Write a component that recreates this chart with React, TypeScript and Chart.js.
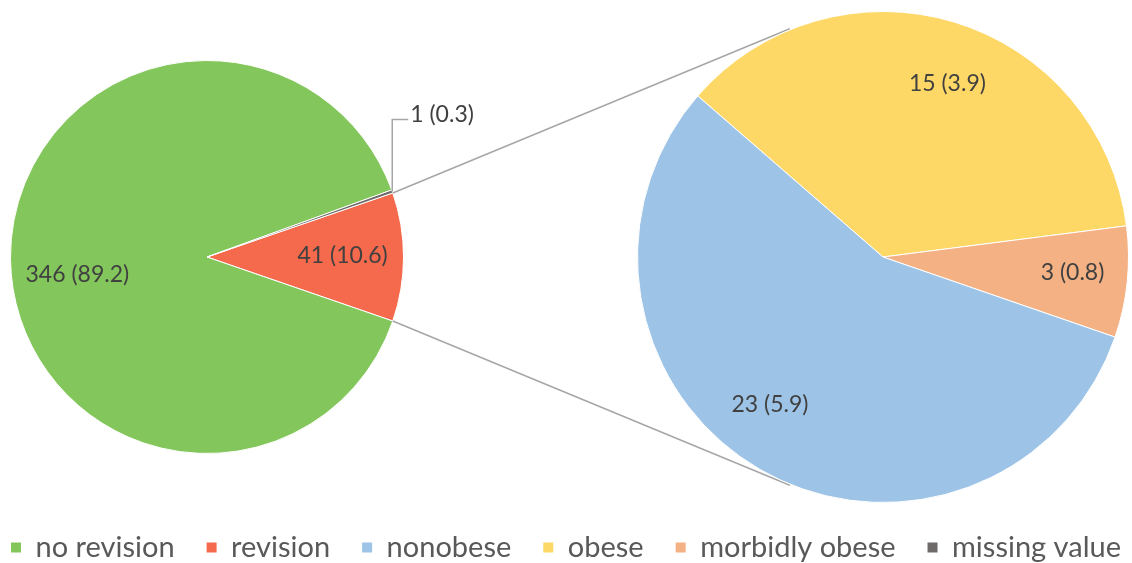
import React, { useEffect, useRef } from 'react';
import { Chart, registerables } from 'chart.js';

Chart.register(...registerables);

// ---- data ----
const mainCategories = ['revision', 'no revision', 'missing value'];
const mainValues = [41, 346, 1];
const mainColors = ['#F5694C', '#83C65B', '#6E6A6A'];

const subCategories = ['obese', 'morbidly obese', 'nonobese'];
const subValues = [15, 3, 23];
const subColors = ['#FED866', '#F4B183', '#9DC3E6'];

const legendOrder = ['no revision', 'revision', 'nonobese', 'obese', 'morbidly obese', 'missing value'];

// ---- styling ----
const W = 1132;
const H = 563;
const FONT = 'Lato, "Open Sans", sans-serif';
const LABEL_COLOR = '#404040';
const LEGEND_COLOR = '#595959';
const CONNECTOR_COLOR = '#A6A6A6';
const LABEL_SIZE = 23;
const LEGEND_SIZE = 29;

// label placement: fraction of radius along slice mid-angle + pixel nudges
const mainLabelStyle: any[] = [
  { r: 0.69, dx: 0, dy: -1 },
  { r: 0.66, dx: 0, dy: 17 },
  { leader: true, up: -72, right: 16 },
];
const subLabelStyle: any[] = [
  { r: 0.736, dx: 12, dy: 0 },
  { r: 0.776, dx: 0, dy: -4 },
  { r: 0.692, dx: -28, dy: 0 },
];
const CONNECTOR_END_DEG = 112.2;

const total = mainValues.reduce((a, b) => a + b, 0);
const colorOf: Record<string, string> = {};
mainCategories.forEach((c, i) => (colorOf[c] = mainColors[i]));
subCategories.forEach((c, i) => (colorOf[c] = subColors[i]));

function labelPlugin(values: number[], styles: any[]) {
  return {
    id: 'sliceLabels',
    afterDatasetsDraw(chart: any) {
      const ctx = chart.ctx;
      const meta = chart.getDatasetMeta(0);
      ctx.save();
      ctx.font = `${LABEL_SIZE}px ${FONT}`;
      ctx.fillStyle = LABEL_COLOR;
      ctx.textBaseline = 'middle';
      meta.data.forEach((arc: any, i: number) => {
        const { x, y, startAngle, endAngle, outerRadius } = arc;
        const mid = (startAngle + endAngle) / 2;
        const text = `${values[i]} (${((values[i] / total) * 100).toFixed(1)})`;
        const s = styles[i];
        if (s.leader) {
          const ax = x + Math.cos(mid) * outerRadius;
          const ay = y + Math.sin(mid) * outerRadius;
          ctx.strokeStyle = CONNECTOR_COLOR;
          ctx.lineWidth = 1.5;
          ctx.beginPath();
          ctx.moveTo(ax, ay);
          ctx.lineTo(ax, ay + s.up);
          ctx.lineTo(ax + s.right, ay + s.up);
          ctx.stroke();
          ctx.textAlign = 'left';
          ctx.fillText(text, ax + s.right + 2, ay + s.up - 5);
        } else {
          ctx.textAlign = 'center';
          const r = outerRadius * s.r;
          ctx.fillText(text, x + Math.cos(mid) * r + s.dx, y + Math.sin(mid) * r + s.dy);
        }
      });
      ctx.restore();
    },
  };
}

function connectorPlugin(getLeft: () => any) {
  return {
    id: 'connectors',
    beforeDatasetsDraw(chart: any) {
      const left = getLeft();
      if (!left) return;
      const la = left.getDatasetMeta(0).data[0];
      const ra = chart.getDatasetMeta(0).data[0];
      const a = (CONNECTOR_END_DEG * Math.PI) / 180;
      const rr = ra.outerRadius + 1;
      const ctx = chart.ctx;
      ctx.save();
      ctx.strokeStyle = CONNECTOR_COLOR;
      ctx.lineWidth = 1.5;
      ctx.beginPath();
      ctx.moveTo(la.x + Math.cos(la.startAngle) * la.outerRadius, la.y + Math.sin(la.startAngle) * la.outerRadius);
      ctx.lineTo(ra.x + Math.cos(-a) * rr, ra.y + Math.sin(-a) * rr);
      ctx.moveTo(la.x + Math.cos(la.endAngle) * la.outerRadius, la.y + Math.sin(la.endAngle) * la.outerRadius);
      ctx.lineTo(ra.x + Math.cos(a) * rr, ra.y + Math.sin(a) * rr);
      ctx.stroke();
      ctx.restore();
    },
  };
}

function pieOptions(rotation: number, padding: any) {
  return {
    responsive: false,
    animation: false as const,
    events: [] as any[],
    rotation,
    layout: { padding },
    plugins: { legend: { display: false }, tooltip: { enabled: false } },
  };
}

export default function App() {
  const legendRef = useRef<HTMLCanvasElement>(null);
  const leftRef = useRef<HTMLCanvasElement>(null);
  const rightRef = useRef<HTMLCanvasElement>(null);

  useEffect(() => {
    document.body.style.margin = '0';
    Chart.defaults.font.family = FONT;

    const legendChart = new Chart(legendRef.current!, {
      type: 'pie',
      data: { labels: legendOrder, datasets: [] },
      options: {
        responsive: false,
        animation: false,
        events: [],
        layout: { padding: { left: -60, right: -60, bottom: -9, top: 0 } },
        plugins: {
          tooltip: { enabled: false },
          legend: {
            display: true,
            position: 'bottom',
            labels: {
              boxWidth: 10,
              boxHeight: 10,
              padding: 32,
              color: LEGEND_COLOR,
              font: { size: LEGEND_SIZE, family: FONT },
              generateLabels: () =>
                legendOrder.map((name, i) => ({
                  text: name,
                  fillStyle: colorOf[name],
                  strokeStyle: colorOf[name],
                  lineWidth: 0,
                  hidden: false,
                  index: i,
                  fontColor: LEGEND_COLOR,
                })),
            },
          },
        },
      } as any,
    });

    const leftChart = new Chart(leftRef.current!, {
      type: 'pie',
      data: {
        labels: mainCategories,
        datasets: [
          {
            data: mainValues,
            backgroundColor: mainColors,
            borderColor: '#ffffff',
            borderWidth: 1,
            hoverOffset: 0,
            offset: 0,
          } as any,
        ],
      },
      options: pieOptions(90 - (mainValues[0] / total) * 180, { left: 10, top: 60, right: 728, bottom: 109 }) as any,
      plugins: [labelPlugin(mainValues, mainLabelStyle)],
    });

    const rightChart = new Chart(rightRef.current!, {
      type: 'pie',
      data: {
        labels: subCategories,
        datasets: [
          {
            data: subValues,
            backgroundColor: subColors,
            borderColor: '#ffffff',
            borderWidth: 1,
            hoverOffset: 0,
            offset: 0,
          } as any,
        ],
      },
      options: pieOptions(-49, { left: 637, top: 11, right: 3, bottom: 60 }) as any,
      plugins: [connectorPlugin(() => leftChart), labelPlugin(subValues, subLabelStyle)],
    });

    return () => {
      rightChart.destroy();
      leftChart.destroy();
      legendChart.destroy();
    };
  }, []);

  const cs: React.CSSProperties = { position: 'absolute', left: 0, top: 0 };
  return (
    <div style={{ position: 'relative', width: W, height: H, overflow: 'hidden', background: '#ffffff' }}>
      <canvas ref={legendRef} width={W} height={H} style={cs} />
      <canvas ref={leftRef} width={W} height={H} style={cs} />
      <canvas ref={rightRef} width={W} height={H} style={cs} />
    </div>
  );
}
